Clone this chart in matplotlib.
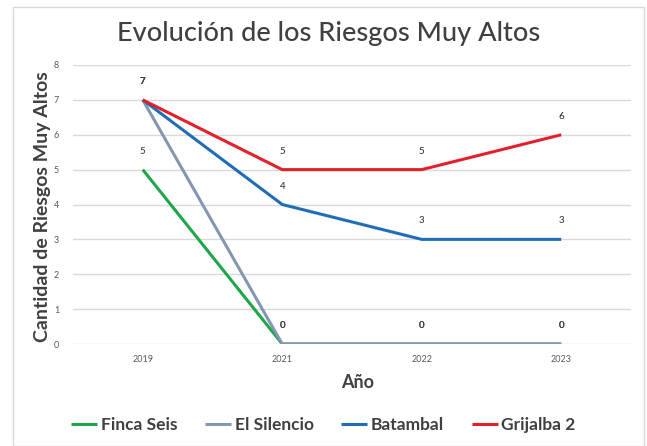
import matplotlib.pyplot as plt
from matplotlib.patches import Rectangle

plt.rcParams["font.family"] = ["Lato", "DejaVu Sans"]

years = ["2019", "2021", "2022", "2023"]
finca_seis = [5, 0, 0, 0]
el_silencio = [7, 0, 0, 0]
batambal = [7, 4, 3, 3]
grijalba = [7, 5, 5, 6]

series = [
    ("Finca Seis", finca_seis, "#1fa64a"),
    ("El Silencio", el_silencio, "#8497b0"),
    ("Batambal", batambal, "#1f6eb5"),
    ("Grijalba 2", grijalba, "#e3202a"),
]

fig = plt.figure(figsize=(6.47, 4.46), dpi=100)
fig.patches.append(Rectangle((13 / 647, 0), 631 / 647, 1 - 7 / 446,
                             transform=fig.transFigure, fill=False,
                             edgecolor="#d9d9d9", lw=1))
ax = fig.add_axes([73 / 647, 1 - 344 / 446, 558 / 647, 279 / 446])

x = list(range(len(years)))
for name, vals, col in series:
    ax.plot(x, vals, color=col, lw=2.2, label=name, solid_capstyle="butt")
for name, vals, col in series:
    for xi, v in zip(x, vals):
        ax.annotate(str(v), (xi, v), xytext=(0, 10), textcoords="offset points",
                    ha="center", va="bottom", fontsize=7, color="#404040",
                    fontweight="semibold")

ax.set_xlim(-0.5, len(years) - 0.5)
ax.set_ylim(0, 8)
ax.set_xticks(x, years)
ax.set_yticks(range(0, 9))
ax.grid(axis="y", color="#d9d9d9", lw=1)
ax.set_axisbelow(True)
for s in ax.spines.values():
    s.set_visible(False)
ax.tick_params(length=0, labelsize=6.5, labelcolor="#595959")
ax.tick_params(axis="x", pad=8)
ax.tick_params(axis="y", pad=10)

fig.text(0.508, 0.926, "Evolución de los Riesgos Muy Altos", ha="center",
         va="center", fontsize=19.5, color="#404040", fontweight="medium")
fig.text(0.066, 1 - 207 / 446, "Cantidad de Riesgos Muy Altos", rotation=90,
         ha="center", va="center", fontsize=14, fontweight="bold", color="#404040")
fig.text(0.553, 1 - 383 / 446, "Año", ha="center", va="center",
         fontsize=13, fontweight="bold", color="#404040")

fig.legend(loc="center", bbox_to_anchor=(0.5, 1 - 425 / 446), ncol=4,
           frameon=False, handlelength=1.5, handletextpad=0.2, columnspacing=1.6,
           prop={"size": 12.5, "weight": "bold"}, labelcolor="#404040")

fig.savefig("out.png", dpi=100)
